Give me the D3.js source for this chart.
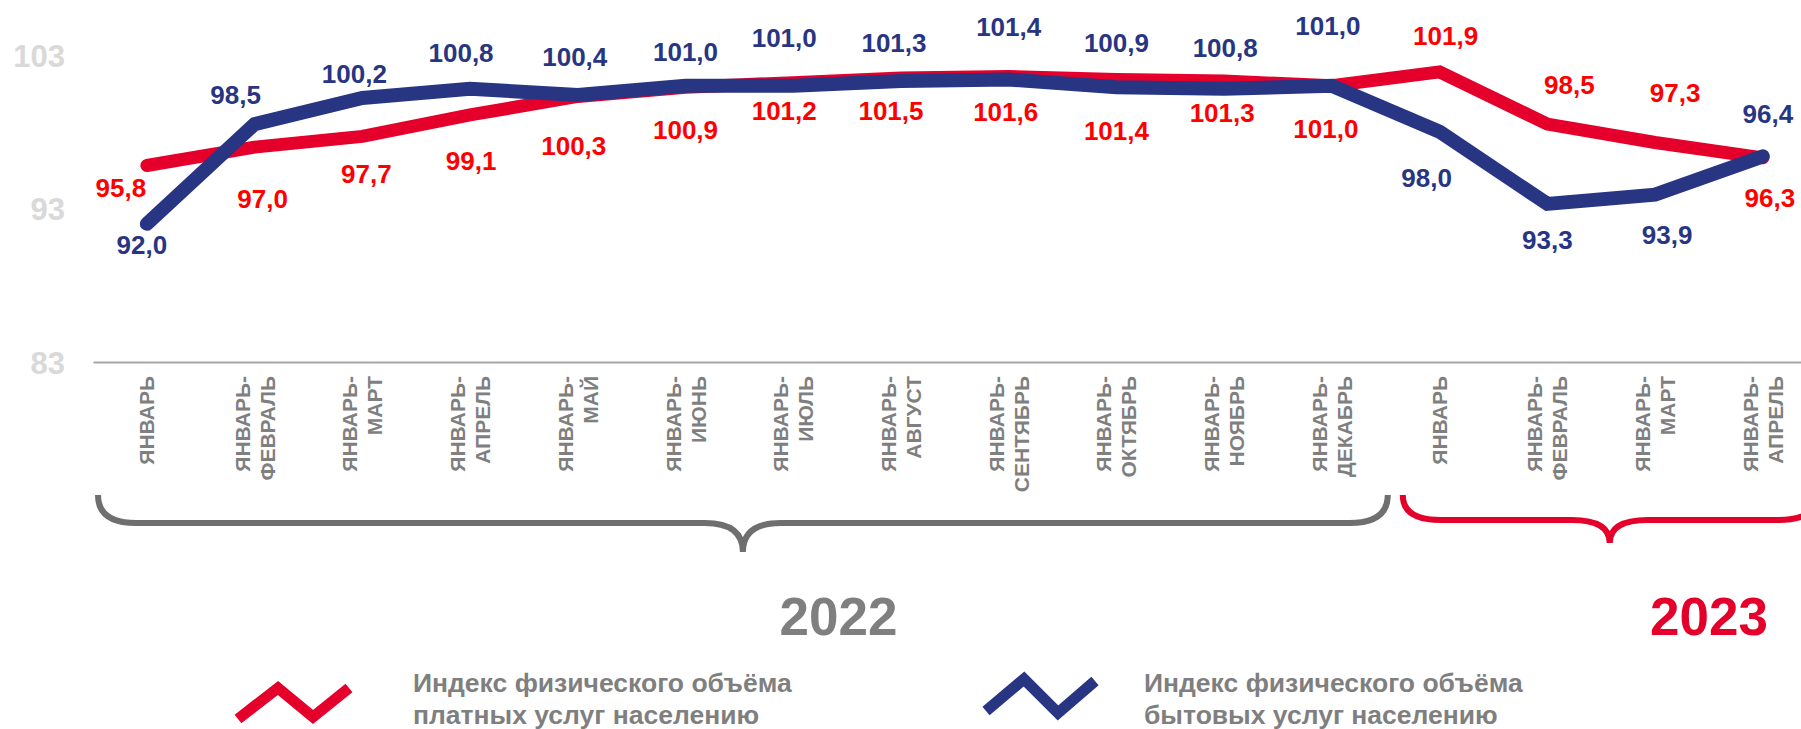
<!DOCTYPE html>
<html><head><meta charset="utf-8">
<script src="https://cdn.jsdelivr.net/npm/d3@7"></script>
<style>
body{margin:0;background:#fff;}
svg{display:block;font-family:"Liberation Sans",Arial,sans-serif;font-weight:bold;}
</style>
</head><body><svg id="chart" width="1801" height="729"></svg>
<script>
// ---------- data ----------
const categories = ["2022-01","2022-02","2022-03","2022-04","2022-05","2022-06","2022-07","2022-08","2022-09","2022-10","2022-11","2022-12","2023-01","2023-02","2023-03","2023-04"];
const categoryLabels = ["ЯНВАРЬ","ЯНВАРЬ-|ФЕВРАЛЬ","ЯНВАРЬ-|МАРТ","ЯНВАРЬ-|АПРЕЛЬ","ЯНВАРЬ-|МАЙ","ЯНВАРЬ-|ИЮНЬ","ЯНВАРЬ-|ИЮЛЬ","ЯНВАРЬ-|АВГУСТ","ЯНВАРЬ-|СЕНТЯБРЬ","ЯНВАРЬ-|ОКТЯБРЬ","ЯНВАРЬ-|НОЯБРЬ","ЯНВАРЬ-|ДЕКАБРЬ","ЯНВАРЬ","ЯНВАРЬ-|ФЕВРАЛЬ","ЯНВАРЬ-|МАРТ","ЯНВАРЬ-|АПРЕЛЬ"];
const paidServices = [95.8,97.0,97.7,99.1,100.3,100.9,101.2,101.5,101.6,101.4,101.3,101.0,101.9,98.5,97.3,96.3];
const householdServices = [92.0,98.5,100.2,100.8,100.4,101.0,101.0,101.3,101.4,100.9,100.8,101.0,98.0,93.3,93.9,96.4];
const yTicks = [83,93,103];
const years = ["2022","2023"];
const yearMonths = [12,4];
const legendLabels = [["Индекс физического объёма","платных услуг населению"],["Индекс физического объёма","бытовых услуг населению"]];

// ---------- layout (label nudges in px, not data) ----------
const paidLabelNudge = [[-26,22],[8,52],[4,37],[1,46],[-4,49],[0,42],[-9,28],[-10,33],[-3,35],[0,51],[-2,32],[-6,43],[6,-36],[22,-39],[20,-50],[7,40]];
const householdLabelNudge = [[-5,21],[-19,-29],[-8,-24],[-9,-36],[-3,-38],[0,-34],[-9,-48],[-7,-38],[0,-53],[0,-45],[1,-41],[-4,-60],[-13,46],[0,36],[12,40],[5,-43]];

const RED = "#e4002b", RED_TXT = "#ff0000", BLUE = "#283583", GREY = "#7f7f7f";

const svg = d3.select("#chart");
const bw = 107.73, x0 = 93;
const x = d3.scaleBand().domain(categories).range([x0, x0 + bw*categories.length]);
const y = d3.scaleLinear().domain([83,103]).range([362,55]);
const cx = c => x(c) + x.bandwidth()/2;
const fmt = v => d3.format(".1f")(v).replace(".", ",");

// y axis
const ya = svg.append("g").attr("transform","translate(65,0)")
  .call(d3.axisLeft(y).tickValues(yTicks).tickSize(0).tickPadding(0).tickFormat(d3.format("d")));
ya.select(".domain").remove();
ya.selectAll("text").attr("fill","#d9d9d9").attr("font-size",31).attr("font-weight","bold")
  .attr("font-family","Liberation Sans, Arial, sans-serif").attr("dy","0.36em");

// x axis
const xa = svg.append("g").attr("transform","translate(0,362)")
  .call(d3.axisBottom(x).tickSize(0).tickSizeOuter(0).tickFormat(""));
xa.select(".domain").attr("stroke","#a6a6a6").attr("stroke-width",2);

// category labels
const cl = svg.append("g").selectAll("text").data(categories).join("text")
  .attr("transform", c => `translate(${cx(c)},376) rotate(-90)`)
  .attr("text-anchor","end").attr("font-size",21).attr("fill",GREY);
cl.each(function(c,i){
  const lines = categoryLabels[i].split("|");
  const t = d3.select(this);
  lines.forEach((ln,k)=>{
    const off = (k - (lines.length-1)/2)*25 + 7.5;
    t.append("tspan").attr("x",0).attr("y",off).text(ln);
  });
});

// lines
const line = d3.line().x((d,i)=>cx(categories[i])).y(d=>y(d));
svg.append("path").datum(paidServices).attr("d",line).attr("fill","none")
  .attr("stroke",RED).attr("stroke-width",13).attr("stroke-linecap","round").attr("stroke-linejoin","miter");
svg.append("path").datum(householdServices).attr("d",line).attr("fill","none")
  .attr("stroke",BLUE).attr("stroke-width",14).attr("stroke-linecap","round").attr("stroke-linejoin","miter");

// data labels
function labels(vals, nudge, color){
  svg.append("g").selectAll("text").data(vals).join("text")
    .attr("x",(d,i)=>cx(categories[i]) + nudge[i][0])
    .attr("y",(d,i)=>y(d) + nudge[i][1])
    .attr("dy","0.36em").attr("text-anchor","middle").attr("font-size",26)
    .attr("fill",color).text(fmt);
}
labels(paidServices, paidLabelNudge, RED_TXT);
labels(householdServices, householdLabelNudge, BLUE);

// braces
function brace(xl, xr, top, mid, tip, color){
  const c = (xl+xr)/2;
  const p = `M${xl},${top} Q${xl},${mid} ${xl+38},${mid} H${c-38} Q${c},${mid} ${c},${tip} M${c},${tip} Q${c},${mid} ${c+38},${mid} H${xr-38} Q${xr},${mid} ${xr},${top}`;
  svg.append("path").attr("d",p).attr("fill","none").attr("stroke",color).attr("stroke-width",6);
}
let start = 0;
const yearColors = ["#6f6f6f", RED];
const yearTextColors = [GREY, RED];
const braceGeom = [{l:5,r:2,mid:523,tip:552},{l:17,r:0,mid:520,tip:543}];
const yearCenter = [6.92, 15.0]; // in band units from axis start
years.forEach((yr,k)=>{
  const first = categories[start], last = categories[start+yearMonths[k]-1];
  const xl = x(first) + braceGeom[k].l, xr = x(last) + x.bandwidth() + braceGeom[k].r;
  brace(xl, xr, 495, braceGeom[k].mid, braceGeom[k].tip, yearColors[k]);
  svg.append("text").attr("x", x0 + yearCenter[k]*x.bandwidth()).attr("y",635)
    .attr("text-anchor","middle").attr("font-size",53).attr("fill",yearTextColors[k]).text(yr);
  start += yearMonths[k];
});

// legend
const legend = [
  {color:RED, pts:[[238,719],[278,688],[313,717],[349,688]], tx:413},
  {color:BLUE, pts:[[986,711],[1024,679],[1058,713],[1095,681]], tx:1144}
];
legend.forEach((lg,k)=>{
  svg.append("path").attr("d", d3.line()(lg.pts)).attr("fill","none").attr("stroke",lg.color)
    .attr("stroke-width",11).attr("stroke-linecap","butt").attr("stroke-linejoin","miter");
  const t = svg.append("text").attr("font-size",26.5).attr("fill",GREY);
  legendLabels[k].forEach((ln,i)=>t.append("tspan").attr("x",lg.tx).attr("y",692+i*32).text(ln));
});
</script>
</body></html>
